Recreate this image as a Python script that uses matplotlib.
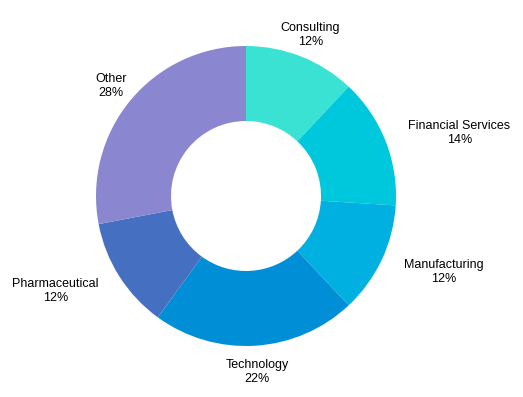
import numpy as np
import matplotlib.pyplot as plt

sectors = ["Consulting", "Financial Services", "Manufacturing", "Technology", "Pharmaceutical", "Other"]
shares = [12, 14, 12, 22, 12, 28]
colors = ["#3ae2d4", "#00c8dc", "#00b0e0", "#008fd6", "#4570c2", "#8a86cf"]

plt.rcParams['font.family'] = ['Liberation Sans', 'DejaVu Sans']

fig = plt.figure(figsize=(5.23, 3.97), dpi=100)
ax = fig.add_axes([0, 0, 1, 1])

wedges, _ = ax.pie(shares, colors=colors, startangle=90, counterclock=False,
                   radius=1.0, wedgeprops=dict(width=0.5, linewidth=0))

# labels outside each wedge
for w, name, s in zip(wedges, sectors, shares):
    ang = np.deg2rad((w.theta1 + w.theta2) / 2)
    x, y = np.cos(ang), np.sin(ang)
    if x > 0.8:
        ha = "left"
    elif x < -0.8:
        ha = "right"
    else:
        ha = "center"
    r = 1.165
    ax.text(x * r, y * r - 0.01, f"{name}\n{s}%", ha=ha, va="center", multialignment="center",
            fontsize=9, color="black", linespacing=1.25)

ax.set_xlim(-246 / 150, 277 / 150)
ax.set_ylim(-201 / 150, 196 / 150)
ax.set_aspect("auto")
ax.axis("off")

fig.savefig("out.png", dpi=100)
